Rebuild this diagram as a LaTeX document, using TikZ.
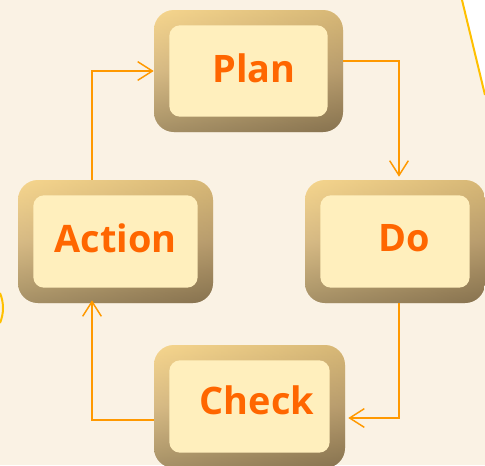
\documentclass[tikz,border=0pt]{standalone}
\usepackage{fontspec}
\setmainfont{Open Sans}
\usetikzlibrary{calc,arrows.meta}
\definecolor{paper}{HTML}{FAF2E4}
\definecolor{face}{HTML}{FFEFBD}
\definecolor{bevtop}{HTML}{FFDA88}
\definecolor{bevmid}{HTML}{CFB07A}
\definecolor{bevbot}{HTML}{84704C}
\definecolor{bevleft}{HTML}{E6CE98}
\definecolor{bevright}{HTML}{8C7755}
\definecolor{flowcol}{HTML}{FF9900}
\definecolor{wordcol}{HTML}{FF6600}
\definecolor{edgecol}{HTML}{FFC000}
\begin{document}
\begin{tikzpicture}[x=0.75pt,y=-0.75pt,
    box/.style={rectangle,rounded corners=15pt,inner sep=0pt,
      path picture={
        \shade[top color=bevtop,bottom color=bevbot,middle color=bevmid]
          (path picture bounding box.south west) rectangle (path picture bounding box.north east);
        \shade[left color=bevleft,right color=bevright,opacity=0.35]
          (path picture bounding box.south west) rectangle (path picture bounding box.north east);
        \fill[face,rounded corners=8pt]
          ([shift={(11.5pt,11.5pt)}]path picture bounding box.south west) rectangle
          ([shift={(-11.5pt,-11.5pt)}]path picture bounding box.north east);
      }},
    word/.style={text=wordcol,font=\fontsize{28.4pt}{30pt}\selectfont\bfseries},
    flow/.style={draw=flowcol,line width=1.1pt,-{Straight Barb[length=11pt,width=14pt,line width=1.1pt]}}]

    \clip (0,0) rectangle (485,465);
    \fill[paper] (0,0) rectangle (485,465);
    % page corner and edge
    \fill[white] (462,0) -- (485,95) -- (485,0) -- cycle;
    \draw[edgecol,line width=1.5pt] (462,0) -- (485,95);
    \draw[edgecol,line width=1.5pt] (0,293) .. controls (4,303) and (4,313) .. (0,323);

    % the four steps
    \node[box,minimum width=141.75pt,minimum height=91.5pt,
          label={[word,xshift=4.1pt,yshift=2.4pt]center:Plan}] (plan) at (248.5,71) {};
    \node[box,minimum width=146.25pt,minimum height=92.25pt,
          label={[word,yshift=2.4pt]center:Action}] (action) at (115.5,241.5) {};
    \node[box,minimum width=135pt,minimum height=92.25pt,
          label={[word,xshift=7pt,yshift=2.4pt]center:Do}] (do) at (395,241.5) {};
    \node[box,minimum width=143.25pt,minimum height=92.25pt,
          label={[word,xshift=5.5pt,yshift=5pt]center:Check}] (check) at (249.5,406.5) {};

    \draw[flow] ($(action.north)+(-23.5,0)$) |- (plan.west);
    \draw[flow] ($(plan.east)+(0,-10)$) -| ($(do.north)+(4,-3)$);
    \draw[flow] ($(do.south)+(4,0)$) |- ($(check.east)+(3,11.5)$);
    \draw[flow] ($(check.west)+(0,13.5)$) -| ($(action.south)+(-23.5,-3)$);

\end{tikzpicture}
\end{document}
